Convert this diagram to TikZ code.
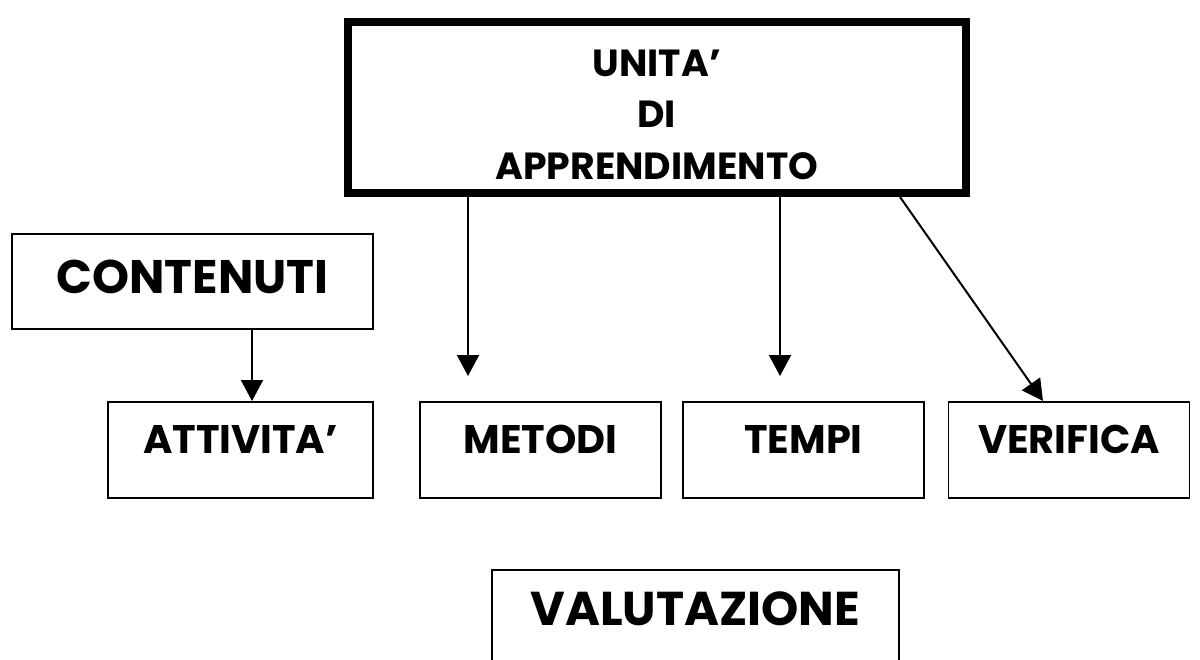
\documentclass[tikz,border=0pt]{standalone}
\usepackage{fontspec}
\setmainfont{Poppins}
\usetikzlibrary{arrows.meta}

\begin{document}
\begin{tikzpicture}[x=0.2mm,y=-0.2mm,
 box/.style={draw,line width=0.35mm,inner xsep=0pt,inner ysep=0pt,anchor=north},
 cell/.style={box,minimum width=48.2mm,text height=10.4mm,text depth=8.8mm,font=\bfseries\fontsize{22.7}{27}\selectfont},
 arr/.style={line width=0.4mm,-{Triangle[length=4.2mm,width=4.4mm]}}]
 \useasboundingbox (0,0) rectangle (1200,659);
 \clip (0,0) rectangle (1200,659);

 \node[box,line width=1.6mm,minimum width=123.5mm,align=center,text height=31.5mm,text depth=2.8mm,font=\bfseries\fontsize{21.5}{29.3}\selectfont] (uda) at (656.75,17.5) {UNITA'\\DI\\APPRENDIMENTO};

 \node[box,minimum width=72.2mm,text height=12mm,text depth=7mm,font=\bfseries\fontsize{26.8}{32}\selectfont] (con) at (192.5,233) {CONTENUTI};

 \node[cell,minimum width=53mm] (att) at (240.5,401) {ATTIVITA'};
 \node[cell] (met) at (540.5,401) {METODI};
 \node[cell] (tem) at (803.5,401) {TEMPI};
 \node[cell] (ver) at (1069,401) {VERIFICA};

 \node[box,minimum width=81.4mm,text height=11.2mm,text depth=20mm,font=\bfseries\fontsize{27}{32}\selectfont] (val) at (695.5,569) {VALUTAZIONE};

 \coordinate (c) at (252,0);
 \coordinate (m) at (468,376);
 \coordinate (t) at (780,376);
 \coordinate (vs) at (900,0);
 \coordinate (ve) at (1043,0);

 \draw[arr] (con.south -| c)--(att.north -| c);
 \draw[arr] (uda.south -| m)--(m);
 \draw[arr] (uda.south -| t)--(t);
 \draw[arr] (uda.south -| vs)--(ver.north -| ve);
\end{tikzpicture}
\end{document}
